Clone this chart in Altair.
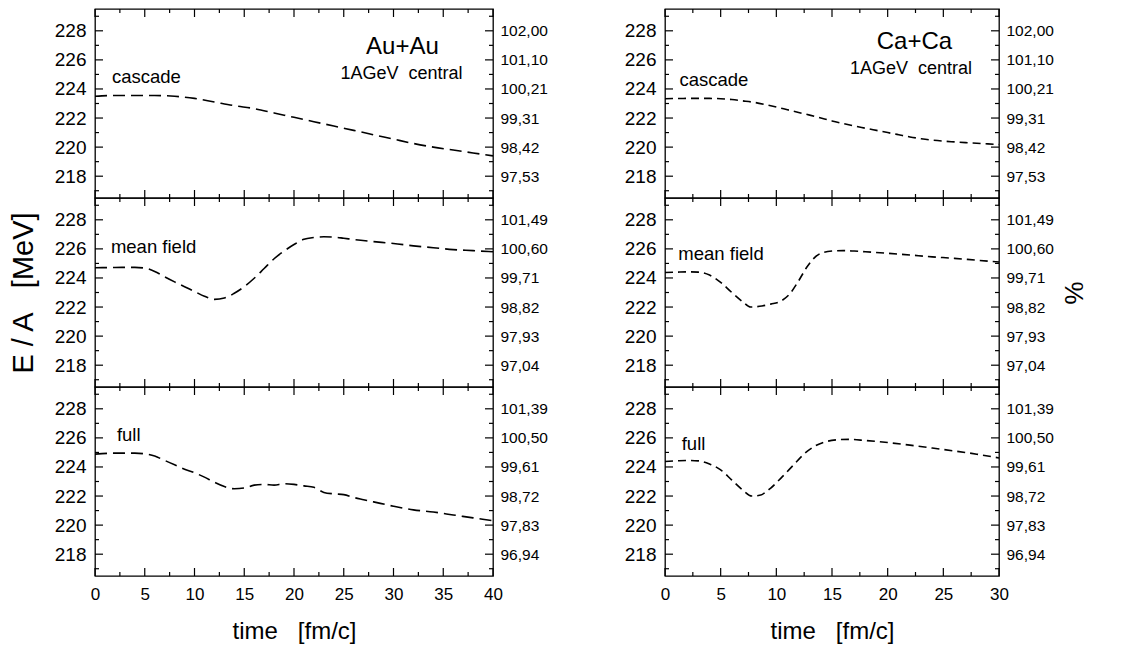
import altair as alt
import pandas as pd

FONT = "Liberation Sans"

# ---------------- data ----------------
# Au+Au (left column), time in fm/c, E/A in MeV
au_casc_t = [0, 2, 4, 6, 8, 10, 12, 14, 16, 18, 20, 22, 24, 26, 28, 30, 32, 34, 36, 38, 40]
au_casc_v = [223.5, 223.55, 223.55, 223.55, 223.5, 223.35, 223.1, 222.85, 222.65, 222.35, 222.05,
             221.75, 221.45, 221.15, 220.85, 220.55, 220.25, 220.0, 219.8, 219.6, 219.4]

au_mf_t = [0, 2, 4, 5, 6, 7, 8, 9, 10, 11, 12, 13, 14, 15, 16, 17, 18, 19, 20, 21, 22, 23, 24,
           25, 26, 28, 30, 32, 34, 36, 38, 40]
au_mf_v = [224.7, 224.72, 224.73, 224.68, 224.45, 224.08, 223.73, 223.4, 223.07, 222.74, 222.53,
           222.62, 222.95, 223.4, 223.98, 224.65, 225.32, 225.85, 226.3, 226.66, 226.78, 226.83,
           226.81, 226.73, 226.64, 226.5, 226.37, 226.21, 226.08, 225.95, 225.88, 225.8]

au_full_t = [0, 2, 4, 5, 6, 7, 8, 9, 10, 11, 12, 13, 14, 15, 16, 17, 18, 19, 20, 21, 22, 23, 24,
             25, 26, 27, 28, 30, 32, 34, 36, 38, 40]
au_full_v = [224.88, 224.95, 224.95, 224.9, 224.75, 224.45, 224.15, 223.85, 223.6, 223.3, 222.95,
             222.65, 222.5, 222.55, 222.75, 222.8, 222.75, 222.85, 222.8, 222.7, 222.6, 222.25,
             222.15, 222.1, 221.9, 221.75, 221.6, 221.3, 221.05, 220.9, 220.7, 220.5, 220.3]

# Ca+Ca (right column)
ca_casc_t = [0, 2, 4, 5, 6, 7, 8, 9, 10, 11, 12, 13, 14, 15, 16, 17, 18, 19, 20, 21, 22, 23, 24,
             25, 26, 27, 28, 29, 30]
ca_casc_v = [223.33, 223.35, 223.35, 223.33, 223.27, 223.18, 223.08, 222.93, 222.76, 222.57, 222.38,
             222.2, 222.0, 221.8, 221.62, 221.45, 221.3, 221.15, 221.0, 220.85, 220.7, 220.58,
             220.48, 220.41, 220.36, 220.31, 220.27, 220.22, 220.18]

ca_mf_t = [0, 1, 2, 3, 4, 5, 6, 7, 7.7, 8.5, 9.5, 10.5, 11.2, 12, 12.7, 13.3, 14, 15, 16, 17, 18,
           20, 22, 24, 26, 28, 30]
ca_mf_v = [224.38, 224.4, 224.42, 224.4, 224.2, 223.7, 223.0, 222.35, 222.0, 222.05, 222.2, 222.45,
           222.9, 223.8, 224.7, 225.3, 225.7, 225.85, 225.88, 225.85, 225.8, 225.7, 225.58, 225.45,
           225.35, 225.22, 225.1]

ca_full_t = [0, 1, 2, 3, 4, 5, 6, 7, 7.8, 8.5, 9.5, 10.5, 11.5, 12.5, 13.5, 14.5, 15.5, 16.5, 18,
             20, 22, 24, 26, 28, 30]
ca_full_v = [224.38, 224.42, 224.45, 224.42, 224.2, 223.8, 223.1, 222.4, 222.0, 222.05, 222.55,
             223.3, 224.1, 224.9, 225.45, 225.75, 225.87, 225.9, 225.82, 225.68, 225.5, 225.3,
             225.1, 224.88, 224.62]

# right-hand percentage axis labels (for E/A = 228, 226, ..., 218)
y_major = [228, 226, 224, 222, 220, 218]
y_minor = [229, 227, 225, 223, 221, 219, 217]
pct_top = ["102,00", "101,10", "100,21", "99,31", "98,42", "97,53"]
pct_mid = ["101,49", "100,60", "99,71", "98,82", "97,93", "97,04"]
pct_bot = ["101,39", "100,50", "99,61", "98,72", "97,83", "96,94"]

x_major_au = [0, 5, 10, 15, 20, 25, 30, 35, 40]
x_minor_au = [2.5, 7.5, 12.5, 17.5, 22.5, 27.5, 32.5, 37.5]
x_major_ca = [0, 5, 10, 15, 20, 25, 30]
x_minor_ca = [2.5, 7.5, 12.5, 17.5, 22.5, 27.5]

# panel labels / annotations
au_labels = [("cascade", 1.7, 224.8), ("mean field", 1.6, 226.1), ("full", 2.2, 226.2)]
ca_labels = [("cascade", 1.3, 224.6), ("mean field", 1.2, 225.65), ("full", 1.5, 225.6)]
au_big = ("Au+Au", 30.9, 226.9)
au_small = ("1AGeV\u00a0\u00a0central", 30.8, 225.05)
ca_big = ("Ca+Ca", 22.4, 227.25)
ca_small = ("1AGeV\u00a0\u00a0central", 22.1, 225.4)

# ---------------- layout/style ----------------
W_L, W_R, H = 398, 334, 189
Y_DOM = [216.5, 229.5]
MAJ, MIN = 8, 4


def pct_expr(labels):
    expr = "''"
    for v, lab in zip(reversed(y_major), reversed(labels)):
        expr = f"datum.value == {v} ? '{lab}' : ({expr})"
    return expr


def panel(t, v, label, pct, xmax, xmaj, xmin, width, dash, bottom, left_title, right_title, ann=None):
    xscale = alt.Scale(domain=[0, xmax], nice=False, zero=False)
    yscale = alt.Scale(domain=Y_DOM, nice=False, zero=False)
    if bottom:
        xaxis = alt.Axis(
            orient="bottom", values=xmaj, labelFlush=False, labelOverlap=False,
            labelFont=FONT, labelFontSize=17, labelColor="black", labelPadding=10,
            ticks=False, tickSize=0, domain=False, grid=False,
            title="time\u00a0\u00a0\u00a0[fm/c]",
            titleFont=FONT, titleFontSize=24, titleFontWeight="normal", titleColor="black",
            titlePadding=17,
        )
    else:
        xaxis = None
    left_axis = alt.Axis(
        orient="left", values=y_major, labelOverlap=False, labelFont=FONT, labelFontSize=19,
        labelColor="black", labelPadding=9, ticks=False, tickSize=0, domain=False, grid=False,
        title=left_title if left_title else None,
        titleFont=FONT, titleFontSize=29, titleFontWeight="normal", titleColor="black",
        titlePadding=16,
    )
    right_axis = alt.Axis(
        orient="right", values=y_major, labelExpr=pct_expr(pct),
        labelOverlap=False, labelFont=FONT, labelFontSize=15.5, labelColor="black",
        labelPadding=7, ticks=False, tickSize=0, domain=False, grid=False,
        title=right_title if right_title else None,
        titleFont=FONT, titleFontSize=26, titleFontWeight="normal", titleColor="black",
        titlePadding=6,
    )

    def X():
        return alt.X("t:Q", scale=xscale, axis=xaxis)

    df = pd.DataFrame({"t": t, "v": v})
    line = alt.Chart(df).mark_line(
        color="black", strokeWidth=1.6, strokeDash=dash, interpolate="monotone"
    ).encode(x=X(), y=alt.Y("v:Q", scale=yscale, axis=left_axis))

    ldf = pd.DataFrame({"text": [label[0]], "t": [label[1]], "v": [label[2]]})
    lab = alt.Chart(ldf).mark_text(
        align="left", baseline="middle", font=FONT, fontSize=18.5, color="black"
    ).encode(x=X(), y=alt.Y("v:Q", scale=yscale, axis=right_axis), text="text:N")

    layers = [line, lab]
    if ann is not None:
        big, small = ann
        bdf = pd.DataFrame({"text": [big[0]], "t": [big[1]], "v": [big[2]]})
        sdf = pd.DataFrame({"text": [small[0]], "t": [small[1]], "v": [small[2]]})
        layers.append(alt.Chart(bdf).mark_text(
            align="center", baseline="middle", font=FONT, fontSize=24, color="black"
        ).encode(x=X(), y=alt.Y("v:Q", scale=yscale, axis=None), text="text:N"))
        layers.append(alt.Chart(sdf).mark_text(
            align="center", baseline="middle", font=FONT, fontSize=18, color="black"
        ).encode(x=X(), y=alt.Y("v:Q", scale=yscale, axis=None), text="text:N"))

    # inward-pointing axis ticks (major + minor) on all four sides
    for vals, L in [(y_major, MAJ), (y_minor, MIN)]:
        base = alt.Chart(pd.DataFrame({"v": vals})).mark_rule(color="black", strokeWidth=1.2)
        yenc = alt.Y("v:Q", scale=yscale, axis=None)
        layers.append(base.encode(y=yenc, x=alt.value(0), x2=alt.value(L)))
        layers.append(base.encode(y=yenc, x=alt.value(width - L), x2=alt.value(width)))
    for vals, L in [(xmaj, MAJ), (xmin, MIN)]:
        base = alt.Chart(pd.DataFrame({"t": vals})).mark_rule(color="black", strokeWidth=1.2)
        layers.append(base.encode(x=X(), y=alt.value(H - L), y2=alt.value(H)))
        layers.append(base.encode(x=X(), y=alt.value(0), y2=alt.value(L)))

    return alt.layer(*layers).resolve_axis(y="independent").properties(width=width, height=H)


DASH_L = [12, 6]
DASH_R = [8, 5]

left_col = alt.vconcat(
    panel(au_casc_t, au_casc_v, au_labels[0], pct_top, 40, x_major_au, x_minor_au, W_L, DASH_L,
          False, None, None, ann=(au_big, au_small)),
    panel(au_mf_t, au_mf_v, au_labels[1], pct_mid, 40, x_major_au, x_minor_au, W_L, DASH_L,
          False, "E / A\u00a0\u00a0\u00a0[MeV]", None),
    panel(au_full_t, au_full_v, au_labels[2], pct_bot, 40, x_major_au, x_minor_au, W_L, DASH_L,
          True, None, None),
    spacing=0, bounds="flush",
)
right_col = alt.vconcat(
    panel(ca_casc_t, ca_casc_v, ca_labels[0], pct_top, 30, x_major_ca, x_minor_ca, W_R, DASH_R,
          False, None, None, ann=(ca_big, ca_small)),
    panel(ca_mf_t, ca_mf_v, ca_labels[1], pct_mid, 30, x_major_ca, x_minor_ca, W_R, DASH_R,
          False, None, "%"),
    panel(ca_full_t, ca_full_v, ca_labels[2], pct_bot, 30, x_major_ca, x_minor_ca, W_R, DASH_R,
          True, None, None),
    spacing=0, bounds="flush",
)

chart = alt.hconcat(left_col, right_col, spacing=74).properties(
    padding={"left": 8, "top": 7, "right": 5, "bottom": 5},
    background="white",
).configure_view(stroke="black", strokeWidth=1.3)

chart.save("out.html", embed_options={"renderer": "svg", "actions": False})
